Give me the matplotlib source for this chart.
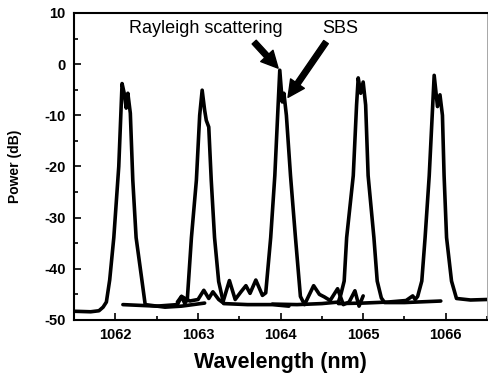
import matplotlib
matplotlib.use("Agg")
import matplotlib.pyplot as plt

plt.rcParams['font.family'] = ['Liberation Sans', 'DejaVu Sans']
plt.rcParams['axes.unicode_minus'] = False

# spectra (wavelength nm, power dB)
wl_a = [1061.5, 1061.7, 1061.8, 1061.85, 1061.89, 1061.93, 1061.98, 1062.04, 1062.08, 1062.11,
        1062.13, 1062.15, 1062.18, 1062.21, 1062.25, 1062.32, 1062.36, 1062.6, 1062.8, 1063.08]
pw_a = [-48.3, -48.4, -48.2, -47.5, -46.5, -42.2, -33.9, -20.0, -3.8, -6.0,
        -8.6, -5.7, -9.6, -22.7, -33.9, -42.2, -47.0, -47.5, -47.3, -46.7]

wl_b = [1062.09, 1062.5, 1062.75, 1062.8, 1062.84, 1062.87, 1062.92, 1062.98, 1063.02, 1063.05,
        1063.08, 1063.1, 1063.13, 1063.16, 1063.2, 1063.25, 1063.31, 1063.6, 1063.9, 1064.1]
pw_b = [-47.0, -47.3, -47.0, -45.4, -46.8, -46.0, -33.9, -22.7, -10.0, -5.1,
        -9.0, -11.0, -12.3, -22.7, -33.9, -42.5, -46.8, -47.0, -47.0, -47.3]

wl_c = [1062.75, 1062.8, 1062.9, 1063.0, 1063.07, 1063.13, 1063.18, 1063.25, 1063.3, 1063.38,
        1063.45, 1063.52, 1063.58, 1063.63, 1063.7, 1063.78, 1063.82, 1063.88, 1063.93, 1063.97,
        1063.99, 1064.02, 1064.04, 1064.07, 1064.12, 1064.18, 1064.24, 1064.29, 1064.4, 1064.47,
        1064.53, 1064.6, 1064.69, 1064.76, 1064.83, 1064.9, 1064.95, 1065.0]
pw_c = [-46.5, -45.4, -46.3, -46.0, -44.2, -45.8, -44.5, -46.0, -46.6, -42.3,
        -46.0, -44.5, -43.3, -44.8, -42.2, -45.2, -44.7, -33.9, -21.8, -8.0,
        -1.2, -7.4, -5.7, -10.0, -21.8, -33.9, -45.4, -47.0, -43.3, -45.0,
        -45.5, -46.2, -43.9, -47.0, -46.5, -44.3, -47.3, -45.3]

wl_d = [1063.9, 1064.2, 1064.5, 1064.7, 1064.73, 1064.77, 1064.8, 1064.88, 1064.92, 1064.94,
        1064.97, 1065.0, 1065.03, 1065.06, 1065.13, 1065.17, 1065.22, 1065.26, 1065.5, 1065.94]
pw_d = [-46.9, -47.0, -46.8, -46.5, -45.0, -42.4, -33.9, -21.8, -8.0, -2.7,
        -5.7, -3.5, -8.0, -21.8, -33.9, -42.4, -45.7, -46.6, -46.6, -46.3]

wl_e = [1064.7, 1065.0, 1065.3, 1065.52, 1065.6, 1065.63, 1065.66, 1065.71, 1065.75, 1065.8,
        1065.86, 1065.9, 1065.93, 1065.96, 1065.98, 1066.01, 1066.07, 1066.13, 1066.3, 1066.5]
pw_e = [-46.8, -46.7, -46.5, -46.2, -45.3, -46.0, -45.4, -42.4, -33.9, -21.8,
        -2.2, -8.3, -6.0, -10.0, -21.8, -33.9, -42.4, -45.8, -46.1, -46.0]

xticks = [1062, 1063, 1064, 1065, 1066]
yticks = [-50, -40, -30, -20, -10, 0, 10]

fig = plt.figure(figsize=(4.88, 3.80), dpi=100)
ax = fig.add_axes([0.152, 0.158, 0.846, 0.808])

for wl, pw in [(wl_a, pw_a), (wl_b, pw_b), (wl_c, pw_c), (wl_d, pw_d), (wl_e, pw_e)]:
    ax.plot(wl, pw, color='black', lw=2.6, solid_joinstyle='round', solid_capstyle='round')

ax.set_xlim(1061.5, 1066.5)
ax.set_ylim(-50, 10)
ax.set_xticks(xticks, labels=[str(v) for v in xticks], fontweight='bold', fontsize=10.5)
ax.set_yticks(yticks, labels=[str(v) for v in yticks], fontweight='bold', fontsize=10.5)
ax.set_xticks([1061.5 + 0.5 * i for i in range(11)], minor=True)
ax.set_yticks([-45, -35, -25, -15, -5, 5], minor=True)
ax.tick_params(which='both', direction='in', width=1.2)
ax.tick_params(which='major', length=5, pad=6)
ax.tick_params(which='minor', length=3)
for s in ax.spines.values():
    s.set_linewidth(1.5)
ax.spines['right'].set_linewidth(0.6)
ax.spines['right'].set_color('#999999')

ax.set_xlabel('Wavelength (nm)', fontsize=15.5, fontweight='bold', labelpad=7)
ax.set_ylabel('Power (dB)', fontsize=10, fontweight='bold', labelpad=16)

ax.text(1063.1, 6.9, 'Rayleigh scattering', fontsize=13, ha='center', va='center')
ax.text(1064.72, 6.9, 'SBS', fontsize=13, ha='center', va='center')
arrow = dict(facecolor='black', edgecolor='black', width=4, headwidth=12, headlength=12, shrink=0)
ax.annotate('', xy=(1063.97, -0.8), xytext=(1063.68, 4.3), arrowprops=arrow)
ax.annotate('', xy=(1064.09, -6.5), xytext=(1064.55, 4.3), arrowprops=arrow)

fig.savefig('out.png', dpi=100)
